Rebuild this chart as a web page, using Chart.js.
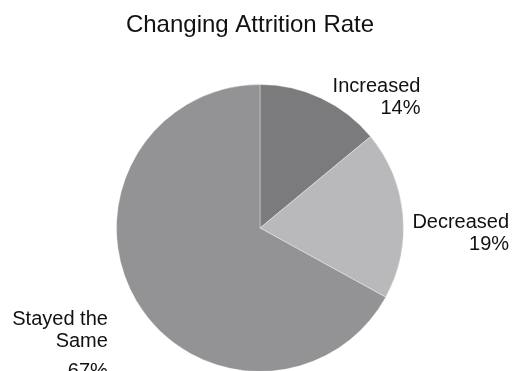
<!DOCTYPE html>
<html>
<head>
<meta charset="utf-8">
<script src="https://cdn.jsdelivr.net/npm/chart.js@4/dist/chart.umd.min.js"></script>
<style>
  html, body { margin: 0; padding: 0; background: #fff; overflow: hidden; }
  #wrap { width: 513px; height: 400px; position: relative; }
</style>
</head>
<body>
<div id="wrap"><canvas id="c"></canvas></div>
<script>
const chartTitle = 'Changing Attrition Rate';
const categories = ['Increased', 'Decreased', 'Stayed the Same'];
const labelLines = [['Increased'], ['Decreased'], ['Stayed the', 'Same']];
const shares = [14, 19, 67];
const sliceColors = ['#7b7b7d', '#b9b9bb', '#939396'];

// Where each slice's label sits, as offsets from the pie centre in radii
// (right edge of the text block, baseline of its first line).
const labelAnchors = [[1.118, -0.951], [1.736, 0], [-1.06, 0.675]];
// Extra gap (px) above the percentage line of each label.
const percentGap = [0, 0, 8];

const textPlugin = {
  id: 'pieText',
  afterDraw(chart) {
    const ctx = chart.ctx;
    const arc = chart.getDatasetMeta(0).data[0];
    const cx = arc.x, cy = arc.y, r = arc.outerRadius;
    ctx.save();
    ctx.fillStyle = '#111';
    ctx.textBaseline = 'alphabetic';
    ctx.font = '24px "Liberation Sans", Arial, sans-serif';
    ctx.textAlign = 'center';
    ctx.fillText(chartTitle, 250, 32);
    ctx.font = '20px "Liberation Sans", Arial, sans-serif';
    ctx.textAlign = 'right';
    shares.forEach((v, i) => {
      const x = cx + labelAnchors[i][0] * r;
      let y = cy + labelAnchors[i][1] * r;
      labelLines[i].forEach((t) => { ctx.fillText(t, x, y); y += 22; });
      ctx.fillText(v + '%', x, y + percentGap[i]);
    });
    ctx.restore();
  }
};

new Chart(document.getElementById('c'), {
  type: 'pie',
  data: {
    labels: categories,
    datasets: [{
      data: shares,
      backgroundColor: sliceColors,
      borderColor: 'rgba(255,255,255,0.35)',
      borderWidth: 1
    }]
  },
  options: {
    responsive: true,
    maintainAspectRatio: false,
    animation: false,
    layout: { padding: { top: 84, bottom: 28, left: 116, right: 109 } },
    plugins: {
      legend: { display: false },
      title: { display: false },
      tooltip: { enabled: false }
    }
  },
  plugins: [textPlugin]
});
</script>
</body>
</html>
